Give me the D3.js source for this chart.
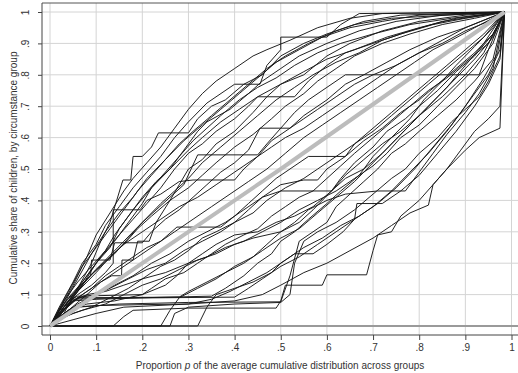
<!DOCTYPE html>
<html>
<head>
<meta charset="utf-8">
<script src="https://cdn.jsdelivr.net/npm/d3@7"></script>
<style>
  html, body { margin: 0; padding: 0; background: #fff; }
  svg { display: block; font-family: 'Liberation Sans', Arial, sans-serif; }
</style>
</head>
<body>
<div id="chart"></div>
<script>
// Tick values for both axes
const xTicks = [0, 0.1, 0.2, 0.3, 0.4, 0.5, 0.6, 0.7, 0.8, 0.9, 1];
const yTicks = [0, 0.1, 0.2, 0.3, 0.4, 0.5, 0.6, 0.7, 0.8, 0.9, 1];

// Average (equality) line
const avgLine = [[0, 0], [0.5, 0.5], [0.985, 1]];

// Concentration curves, one per circumstance group: [p, cumulative share]
const u1 = [[0,0],[0.02,0.05],[0.05,0.13],[0.08,0.22],[0.1,0.29],[0.13,0.36],[0.16,0.43],[0.18,0.47],[0.21,0.52],[0.24,0.57],[0.27,0.63],[0.3,0.69],[0.33,0.74],[0.36,0.78],[0.4,0.82],[0.44,0.86],[0.47,0.88],[0.52,0.91],[0.58,0.95],[0.65,0.98],[0.72,0.995],[0.985,1]];
const u2 = [[0,0],[0.03,0.04],[0.06,0.12],[0.09,0.2],[0.11,0.27],[0.13,0.33],[0.158,0.465],[0.175,0.465],[0.18,0.54],[0.2,0.54],[0.22,0.57],[0.235,0.615],[0.3,0.615],[0.32,0.66],[0.35,0.7],[0.38,0.72],[0.42,0.77],[0.46,0.8],[0.5,0.86],[0.55,0.9],[0.6,0.93],[0.66,0.96],[0.74,0.98],[0.985,1]];
const u3 = [[0,0],[0.04,0.07],[0.07,0.13],[0.1,0.2],[0.13,0.25],[0.15,0.31],[0.18,0.37],[0.22,0.44],[0.26,0.5],[0.29,0.56],[0.32,0.62],[0.34,0.65],[0.39,0.69],[0.43,0.74],[0.46,0.78],[0.5,0.82],[0.54,0.86],[0.6,0.9],[0.67,0.94],[0.75,0.97],[0.85,0.99],[0.985,1]];
const u4 = [[0,0],[0.04,0.05],[0.08,0.1],[0.11,0.14],[0.134,0.16],[0.155,0.16],[0.156,0.21],[0.18,0.21],[0.19,0.27],[0.215,0.27],[0.23,0.33],[0.26,0.4],[0.28,0.45],[0.3,0.5],[0.33,0.53],[0.36,0.58],[0.4,0.62],[0.44,0.68],[0.47,0.73],[0.5,0.77],[0.55,0.8],[0.6,0.86],[0.65,0.9],[0.72,0.94],[0.8,0.97],[0.9,0.99],[0.985,1]];
const u5 = [[0,0],[0.02,0.03],[0.05,0.09],[0.08,0.15],[0.12,0.21],[0.16,0.27],[0.2,0.33],[0.24,0.39],[0.27,0.43],[0.3,0.47],[0.33,0.52],[0.37,0.57],[0.41,0.62],[0.45,0.67],[0.49,0.72],[0.53,0.76],[0.57,0.8],[0.62,0.84],[0.67,0.87],[0.72,0.91],[0.78,0.94],[0.85,0.97],[0.985,1]];
const u6 = [[0,0],[0.02,0.04],[0.05,0.1],[0.08,0.15],[0.11,0.19],[0.14,0.23],[0.17,0.28],[0.2,0.33],[0.23,0.37],[0.26,0.41],[0.29,0.45],[0.32,0.545],[0.45,0.545],[0.47,0.58],[0.5,0.63],[0.53,0.68],[0.56,0.72],[0.6,0.76],[0.64,0.8],[0.93,0.8],[0.95,0.88],[0.97,0.95],[0.985,1]];
const u7 = [[0,0],[0.03,0.08],[0.06,0.14],[0.09,0.19],[0.12,0.24],[0.15,0.29],[0.18,0.34],[0.21,0.39],[0.24,0.44],[0.27,0.5],[0.3,0.55],[0.33,0.58],[0.36,0.62],[0.4,0.66],[0.43,0.7],[0.45,0.73],[0.53,0.73],[0.56,0.78],[0.6,0.83],[0.64,0.87],[0.7,0.9],[0.76,0.93],[0.83,0.96],[0.9,0.98],[0.985,1]];
const u8 = [[0,0],[0.03,0.06],[0.06,0.11],[0.1,0.17],[0.13,0.22],[0.16,0.26],[0.19,0.31],[0.22,0.35],[0.26,0.4],[0.3,0.44],[0.33,0.48],[0.36,0.52],[0.4,0.57],[0.44,0.61],[0.48,0.66],[0.51,0.7],[0.55,0.74],[0.58,0.78],[0.62,0.82],[0.66,0.86],[0.72,0.9],[0.78,0.93],[0.85,0.96],[0.92,0.98],[0.985,1]];
const u9 = [[0,0],[0.02,0.06],[0.05,0.14],[0.07,0.2],[0.1,0.26],[0.12,0.32],[0.15,0.38],[0.18,0.44],[0.21,0.49],[0.24,0.54],[0.27,0.6],[0.3,0.65],[0.34,0.71],[0.4,0.77],[0.455,0.77],[0.47,0.83],[0.5,0.88],[0.5,0.92],[0.6,0.92],[0.63,0.96],[0.67,0.995],[0.985,1]];
const u10 = [[0,0],[0.04,0.08],[0.07,0.13],[0.1,0.18],[0.13,0.22],[0.16,0.26],[0.2,0.3],[0.24,0.34],[0.28,0.38],[0.32,0.41],[0.36,0.45],[0.4,0.49],[0.44,0.53],[0.48,0.57],[0.51,0.6],[0.55,0.63],[0.59,0.67],[0.63,0.71],[0.67,0.75],[0.71,0.79],[0.75,0.83],[0.8,0.87],[0.85,0.91],[0.9,0.95],[0.985,1]];
const u11 = [[0,0],[0.02,0.05],[0.04,0.09],[0.07,0.14],[0.09,0.18],[0.11,0.22],[0.14,0.27],[0.17,0.33],[0.2,0.39],[0.22,0.44],[0.25,0.49],[0.28,0.54],[0.31,0.59],[0.34,0.63],[0.37,0.67],[0.41,0.72],[0.45,0.76],[0.49,0.79],[0.53,0.83],[0.58,0.87],[0.63,0.9],[0.7,0.93],[0.78,0.96],[0.87,0.98],[0.985,1]];
const u12 = [[0,0],[0.05,0.1],[0.08,0.16],[0.1,0.2],[0.12,0.24],[0.14,0.29],[0.17,0.35],[0.2,0.41],[0.23,0.46],[0.26,0.5],[0.3,0.56],[0.33,0.6],[0.37,0.65],[0.41,0.69],[0.45,0.73],[0.5,0.77],[0.55,0.81],[0.6,0.85],[0.66,0.88],[0.73,0.92],[0.8,0.95],[0.88,0.98],[0.985,1]];
const u13 = [[0,0],[0.03,0.07],[0.06,0.15],[0.09,0.23],[0.12,0.3],[0.15,0.36],[0.18,0.41],[0.21,0.47],[0.25,0.53],[0.29,0.59],[0.33,0.64],[0.37,0.69],[0.41,0.74],[0.45,0.79],[0.49,0.84],[0.54,0.88],[0.59,0.92],[0.65,0.95],[0.72,0.97],[0.8,0.99],[0.985,1]];
const u14 = [[0,0],[0.04,0.11],[0.07,0.19],[0.1,0.25],[0.13,0.31],[0.16,0.37],[0.19,0.43],[0.22,0.48],[0.25,0.53],[0.28,0.58],[0.31,0.62],[0.35,0.67],[0.39,0.72],[0.43,0.77],[0.47,0.82],[0.51,0.86],[0.56,0.9],[0.62,0.94],[0.68,0.97],[0.76,0.99],[0.985,1]];
const d1 = [[0,0],[0.03,0.06],[0.06,0.1],[0.09,0.13],[0.12,0.17],[0.137,0.2],[0.137,0.37],[0.195,0.37],[0.21,0.4],[0.24,0.42],[0.28,0.46],[0.31,0.465],[0.4,0.465],[0.42,0.5],[0.45,0.54],[0.48,0.59],[0.52,0.63],[0.55,0.67],[0.6,0.72],[0.64,0.77],[0.68,0.8],[0.73,0.84],[0.78,0.88],[0.84,0.92],[0.9,0.95],[0.95,0.98],[0.985,1]];
const d2 = [[0,0],[0.03,0.05],[0.06,0.09],[0.09,0.12],[0.12,0.16],[0.15,0.19],[0.18,0.22],[0.21,0.25],[0.24,0.27],[0.275,0.315],[0.37,0.315],[0.4,0.35],[0.43,0.39],[0.46,0.43],[0.49,0.47],[0.52,0.5],[0.56,0.54],[0.64,0.54],[0.66,0.58],[0.7,0.62],[0.74,0.67],[0.78,0.72],[0.82,0.77],[0.86,0.82],[0.9,0.87],[0.94,0.92],[0.985,1]];
const d3c = [[0,0],[0.03,0.07],[0.06,0.12],[0.088,0.16],[0.09,0.21],[0.13,0.21],[0.14,0.265],[0.2,0.265],[0.22,0.3],[0.25,0.34],[0.28,0.37],[0.31,0.41],[0.34,0.45],[0.37,0.49],[0.4,0.52],[0.43,0.56],[0.455,0.63],[0.52,0.63],[0.55,0.66],[0.58,0.69],[0.62,0.73],[0.66,0.77],[0.7,0.8],[0.75,0.83],[0.8,0.87],[0.85,0.9],[0.9,0.94],[0.95,0.97],[0.985,1]];
const d4 = [[0,0],[0.03,0.04],[0.06,0.07],[0.1,0.1],[0.14,0.13],[0.18,0.16],[0.22,0.2],[0.26,0.23],[0.3,0.27],[0.34,0.3],[0.38,0.33],[0.42,0.37],[0.46,0.41],[0.5,0.43],[0.57,0.43],[0.6,0.47],[0.63,0.51],[0.66,0.55],[0.7,0.6],[0.74,0.65],[0.78,0.7],[0.82,0.75],[0.86,0.79],[0.9,0.84],[0.95,0.9],[0.985,1]];
const d5 = [[0,0],[0.03,0.05],[0.07,0.1],[0.11,0.14],[0.15,0.18],[0.19,0.22],[0.23,0.26],[0.27,0.3],[0.31,0.34],[0.35,0.38],[0.39,0.42],[0.43,0.46],[0.47,0.5],[0.51,0.55],[0.55,0.6],[0.59,0.64],[0.63,0.68],[0.67,0.72],[0.71,0.76],[0.75,0.8],[0.79,0.84],[0.83,0.88],[0.87,0.91],[0.92,0.95],[0.985,1]];
const m1 = [[0,0],[0.03,0.03],[0.07,0.05],[0.12,0.07],[0.16,0.1],[0.2,0.13],[0.24,0.15],[0.28,0.18],[0.32,0.21],[0.36,0.23],[0.4,0.26],[0.44,0.28],[0.5,0.3],[0.53,0.33],[0.56,0.37],[0.6,0.4],[0.64,0.42],[0.71,0.43],[0.77,0.43],[0.8,0.49],[0.83,0.55],[0.86,0.61],[0.9,0.68],[0.93,0.74],[0.96,0.82],[0.985,1]];
const m2 = [[0,0],[0.02,0.05],[0.04,0.08],[0.06,0.095],[0.2,0.1],[0.22,0.12],[0.25,0.15],[0.29,0.17],[0.32,0.2],[0.35,0.23],[0.38,0.26],[0.42,0.29],[0.45,0.31],[0.48,0.35],[0.51,0.38],[0.54,0.41],[0.57,0.43],[0.61,0.43],[0.63,0.47],[0.66,0.52],[0.7,0.57],[0.73,0.62],[0.77,0.66],[0.8,0.7],[0.84,0.75],[0.88,0.81],[0.92,0.86],[0.96,0.93],[0.985,1]];
const l1 = [[0,0],[0.137,0],[0.16,0.03],[0.18,0.05],[0.3,0.057],[0.49,0.057],[0.5,0.08],[0.51,0.13],[0.59,0.13],[0.6,0.163],[0.686,0.163],[0.7,0.24],[0.71,0.29],[0.74,0.3],[0.76,0.35],[0.8,0.4],[0.83,0.45],[0.86,0.5],[0.9,0.56],[0.93,0.6],[0.975,0.63],[0.985,1]];
const l2 = [[0,0],[0.02,0.03],[0.04,0.07],[0.06,0.09],[0.28,0.092],[0.3,0.11],[0.34,0.14],[0.38,0.17],[0.42,0.2],[0.46,0.24],[0.5,0.28],[0.54,0.31],[0.58,0.36],[0.62,0.41],[0.66,0.46],[0.7,0.52],[0.74,0.58],[0.78,0.64],[0.82,0.7],[0.86,0.76],[0.9,0.83],[0.94,0.9],[0.985,1]];
const l3 = [[0,0],[0.03,0.05],[0.05,0.08],[0.1,0.085],[0.2,0.09],[0.35,0.095],[0.38,0.12],[0.42,0.16],[0.45,0.2],[0.48,0.23],[0.5,0.27],[0.53,0.3],[0.56,0.34],[0.6,0.39],[0.63,0.43],[0.67,0.48],[0.7,0.54],[0.74,0.6],[0.78,0.66],[0.81,0.72],[0.85,0.78],[0.88,0.83],[0.92,0.89],[0.96,0.95],[0.985,1]];
const l4 = [[0,0],[0.24,0],[0.26,0.05],[0.28,0.09],[0.32,0.12],[0.36,0.15],[0.4,0.19],[0.44,0.22],[0.47,0.26],[0.5,0.3],[0.54,0.33],[0.57,0.37],[0.61,0.43],[0.64,0.48],[0.68,0.53],[0.72,0.58],[0.76,0.62],[0.8,0.67],[0.84,0.73],[0.88,0.79],[0.92,0.85],[0.96,0.92],[0.985,1]];
const l5 = [[0,0],[0.32,0],[0.34,0.06],[0.36,0.1],[0.4,0.12],[0.44,0.14],[0.48,0.17],[0.5,0.2],[0.53,0.23],[0.57,0.23],[0.6,0.26],[0.635,0.3],[0.66,0.34],[0.665,0.39],[0.72,0.39],[0.76,0.43],[0.8,0.48],[0.84,0.55],[0.88,0.62],[0.92,0.7],[0.95,0.77],[0.975,0.85],[0.985,1]];
const l6 = [[0,0],[0.26,0],[0.27,0.04],[0.3,0.06],[0.4,0.07],[0.5,0.075],[0.52,0.1],[0.53,0.2],[0.55,0.27],[0.58,0.3],[0.62,0.33],[0.66,0.37],[0.7,0.42],[0.74,0.47],[0.77,0.5],[0.8,0.55],[0.84,0.6],[0.87,0.65],[0.9,0.69],[0.93,0.73],[0.95,0.78],[0.975,0.86],[0.985,1]];
const l7 = [[0,0],[0.02,0.04],[0.05,0.08],[0.08,0.1],[0.12,0.11],[0.16,0.13],[0.2,0.15],[0.25,0.17],[0.3,0.2],[0.34,0.22],[0.38,0.25],[0.42,0.27],[0.46,0.3],[0.5,0.33],[0.54,0.37],[0.58,0.4],[0.62,0.43],[0.66,0.47],[0.7,0.51],[0.73,0.55],[0.76,0.6],[0.8,0.64],[0.84,0.7],[0.88,0.76],[0.92,0.82],[0.96,0.9],[0.985,1]];
const l8 = [[0,0],[0.03,0.06],[0.06,0.09],[0.1,0.1],[0.13,0.12],[0.17,0.15],[0.21,0.18],[0.25,0.2],[0.29,0.24],[0.33,0.27],[0.37,0.3],[0.4,0.33],[0.44,0.36],[0.47,0.4],[0.51,0.44],[0.55,0.47],[0.58,0.5],[0.62,0.54],[0.66,0.58],[0.7,0.63],[0.74,0.68],[0.78,0.73],[0.82,0.78],[0.86,0.83],[0.9,0.88],[0.94,0.93],[0.985,1]];
const l9 = [[0,0],[0.03,0.04],[0.06,0.06],[0.15,0.07],[0.3,0.075],[0.5,0.077],[0.52,0.16],[0.54,0.27],[0.57,0.3],[0.6,0.33],[0.62,0.38],[0.65,0.42],[0.68,0.46],[0.71,0.5],[0.74,0.55],[0.77,0.58],[0.8,0.62],[0.84,0.67],[0.88,0.72],[0.92,0.78],[0.96,0.85],[0.985,1]];
const l10 = [[0,0],[0.04,0.05],[0.08,0.07],[0.14,0.08],[0.2,0.1],[0.25,0.13],[0.275,0.16],[0.3,0.2],[0.33,0.23],[0.36,0.26],[0.4,0.29],[0.45,0.3],[0.49,0.33],[0.53,0.35],[0.57,0.38],[0.61,0.43],[0.64,0.47],[0.68,0.5],[0.72,0.55],[0.76,0.61],[0.8,0.67],[0.85,0.73],[0.9,0.8],[0.94,0.87],[0.985,1]];
const l11 = [[0,0],[0.02,0.02],[0.05,0.04],[0.09,0.06],[0.13,0.09],[0.17,0.12],[0.21,0.16],[0.24,0.19],[0.27,0.21],[0.3,0.24],[0.33,0.28],[0.36,0.3],[0.4,0.33],[0.43,0.37],[0.46,0.41],[0.5,0.45],[0.55,0.465],[0.58,0.465],[0.6,0.5],[0.64,0.54],[0.68,0.59],[0.72,0.63],[0.76,0.68],[0.8,0.72],[0.84,0.77],[0.88,0.82],[0.92,0.87],[0.96,0.93],[0.985,1]];
const l12 = [[0,0],[0.05,0.02],[0.1,0.04],[0.16,0.06],[0.3,0.07],[0.4,0.08],[0.46,0.1],[0.5,0.13],[0.55,0.17],[0.6,0.2],[0.65,0.24],[0.7,0.28],[0.74,0.32],[0.78,0.36],[0.82,0.385],[0.83,0.45],[0.86,0.5],[0.89,0.56],[0.92,0.62],[0.95,0.66],[0.975,0.7],[0.985,1]];
const l13 = [[0,0],[0.03,0.05],[0.05,0.085],[0.1,0.088],[0.25,0.09],[0.4,0.092],[0.43,0.12],[0.46,0.15],[0.5,0.19],[0.54,0.22],[0.58,0.26],[0.62,0.3],[0.66,0.34],[0.7,0.38],[0.74,0.43],[0.78,0.49],[0.82,0.55],[0.86,0.62],[0.9,0.7],[0.94,0.79],[0.97,0.87],[0.985,1]];
const l14 = [[0,0],[0.02,0.03],[0.05,0.06],[0.1,0.065],[0.2,0.068],[0.3,0.07],[0.35,0.085],[0.39,0.11],[0.43,0.14],[0.47,0.17],[0.51,0.21],[0.55,0.25],[0.59,0.28],[0.63,0.32],[0.67,0.35],[0.71,0.39],[0.75,0.44],[0.79,0.5],[0.83,0.57],[0.87,0.64],[0.91,0.72],[0.95,0.8],[0.975,0.88],[0.985,1]];

const curves = [u1, u2, u3, u4, u5, u6, u7, u8, u9, u10, u11, u12, u13, u14,
  d1, d2, d3c, d4, d5, m1, m2,
  l1, l2, l3, l4, l5, l6, l7, l8, l9, l10, l11, l12, l13, l14];

// Dimensions: plot region box and data area inside it
const width = 518;
const height = 373;
const box = { left: 42, right: 518, top: 3, bottom: 335 };

const svg = d3.select('#chart')
  .append('svg')
  .attr('width', width)
  .attr('height', height);

const x = d3.scaleLinear().domain([0, 1]).range([50, 511.5]);
const y = d3.scaleLinear().domain([0, 1]).range([326, 12]);

// Grid lines
svg.append('g')
  .selectAll('line')
  .data(xTicks)
  .enter()
  .append('line')
  .attr('x1', d => x(d))
  .attr('x2', d => x(d))
  .attr('y1', box.top)
  .attr('y2', box.bottom)
  .attr('stroke', '#d4d4d4')
  .attr('stroke-width', 1);

svg.append('g')
  .selectAll('line')
  .data(yTicks)
  .enter()
  .append('line')
  .attr('x1', box.left)
  .attr('x2', box.right)
  .attr('y1', d => y(d))
  .attr('y2', d => y(d))
  .attr('stroke', d => d === 0 ? '#9a9a9a' : '#d4d4d4')
  .attr('stroke-width', d => d === 0 ? 2 : 1);

// Top border of the plot region
svg.append('line')
  .attr('x1', box.left).attr('x2', box.right)
  .attr('y1', box.top).attr('y2', box.top)
  .attr('stroke', '#555').attr('stroke-width', 1);

// Curves
const line = d3.line()
  .x(d => x(d[0]))
  .y(d => y(d[1]));

svg.append('g')
  .selectAll('path')
  .data(curves)
  .enter()
  .append('path')
  .attr('d', line)
  .attr('fill', 'none')
  .attr('stroke', '#161616')
  .attr('stroke-width', 0.95)
  .attr('stroke-linejoin', 'round');

// Thick grey average line on top
svg.append('path')
  .attr('d', line(avgLine))
  .attr('fill', 'none')
  .attr('stroke', '#bcbcbc')
  .attr('stroke-width', 4);

// Tick label format: 0, .1, ... , .9, 1
const fmt = d => (d === 0 ? '0' : d === 1 ? '1' : d3.format('.1f')(d).replace(/^0/, ''));

// X axis
const xAxis = svg.append('g')
  .attr('transform', `translate(0,${box.bottom})`)
  .call(d3.axisBottom(x).tickValues(xTicks).tickFormat(fmt).tickSize(5).tickPadding(4).tickSizeOuter(0));
xAxis.select('.domain').attr('d', `M${box.left},0H${box.right}`).attr('stroke', '#444');
xAxis.selectAll('.tick line').attr('stroke', '#444');
xAxis.selectAll('text').style('font-size', '10px').attr('fill', '#333');

// Y axis
const yAxis = svg.append('g')
  .attr('transform', `translate(${box.left},0)`)
  .call(d3.axisLeft(y).tickValues(yTicks).tickFormat(fmt).tickSize(4).tickSizeOuter(0));
yAxis.select('.domain').attr('d', `M0,${box.top}V${box.bottom}`).attr('stroke', '#444');
yAxis.selectAll('.tick line').attr('stroke', '#444');
yAxis.selectAll('text')
  .attr('x', null)
  .attr('dy', null)
  .attr('text-anchor', 'middle')
  .attr('transform', 'translate(-13,0) rotate(-90)')
  .style('font-size', '10px')
  .attr('fill', '#333');

// Axis titles
const xTitle = svg.append('text')
  .attr('x', 280)
  .attr('y', 369)
  .attr('text-anchor', 'middle')
  .style('font-size', '10px')
  .attr('fill', '#333');
xTitle.append('tspan').text('Proportion ');
xTitle.append('tspan').style('font-style', 'italic').text('p');
xTitle.append('tspan').text(' of the average cumulative distribution across groups');

svg.append('text')
  .attr('transform', 'translate(17,168) rotate(-90)')
  .attr('text-anchor', 'middle')
  .style('font-size', '10px')
  .attr('fill', '#333')
  .text('Cumulative share of children, by circumstance group');
</script>
</body>
</html>
